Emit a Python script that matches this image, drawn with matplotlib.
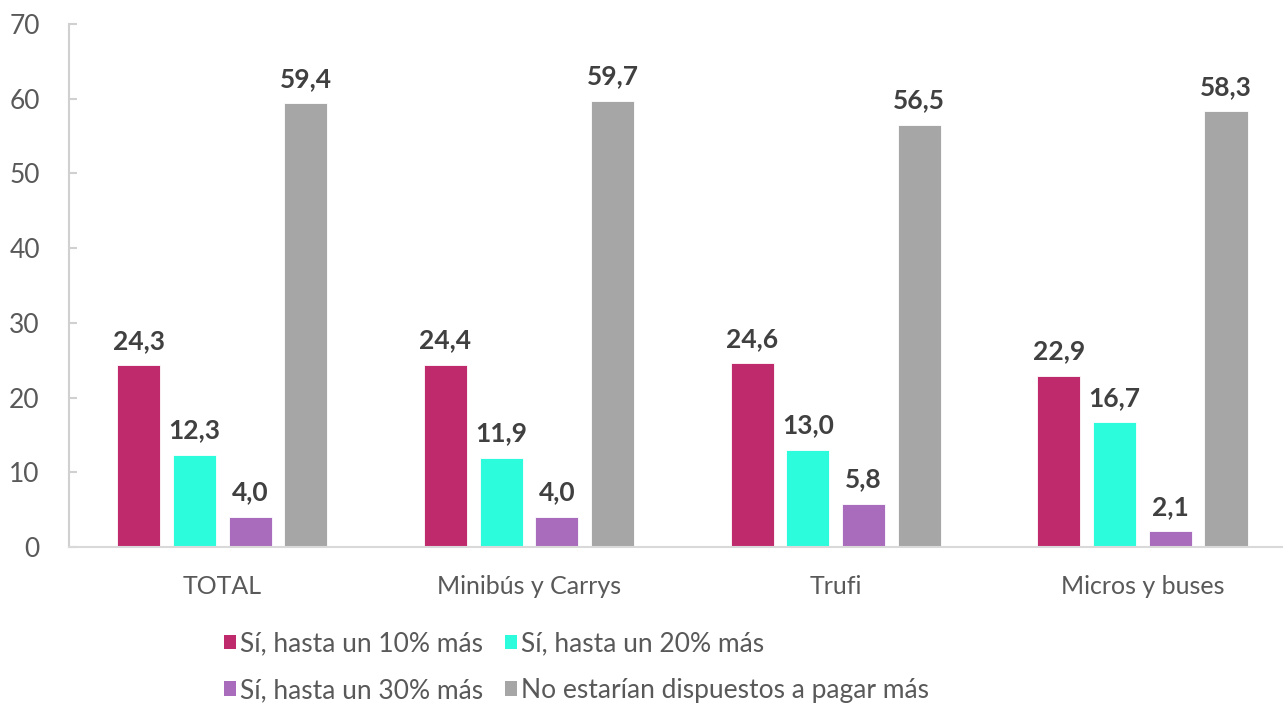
import matplotlib
matplotlib.use("Agg")
import matplotlib.pyplot as plt
import numpy as np
from matplotlib.patches import Patch

categories = ["TOTAL", "Minibús y Carrys", "Trufi", "Micros y buses"]
series_names = ["Sí, hasta un 10% más", "Sí, hasta un 20% más",
                "Sí, hasta un 30% más", "No estarían dispuestos a pagar más"]
s10 = [24.3, 24.4, 24.6, 22.9]
s20 = [12.3, 11.9, 13.0, 16.7]
s30 = [4.0, 4.0, 5.8, 2.1]
s_no = [59.4, 59.7, 56.5, 58.3]
colors = ["#BF2A6D", "#2CFCDC", "#A96BBB", "#A6A6A6"]

plt.rcParams['font.family'] = ['Lato', 'DejaVu Sans']

fig = plt.figure(figsize=(12.83, 7.06), dpi=100)
ax = fig.add_axes([69/1283, 1-547/706, 1226.7/1283, (547-24)/706])

x = np.arange(len(categories))
step = 0.1816
width = 0.141
all_series = [s10, s20, s30, s_no]
for i, (vals, col) in enumerate(zip(all_series, colors)):
    pos = x + (i - 1.5) * step
    ax.bar(pos, vals, width=width, color=col, edgecolor="white", linewidth=0.6)
    for p, v in zip(pos, vals):
        ax.annotate(f"{v:.1f}".replace(".", ","), (p, v), xytext=(0, 9),
                    textcoords="offset points", ha="center", va="bottom",
                    fontsize=19, fontweight="bold", color="#404040")

ax.set_xlim(-0.5, 3.5)
ax.set_ylim(0, 70)
ax.set_yticks(range(0, 71, 10))
ax.set_xticks(x)
ax.set_xticklabels(categories)
for s in ["top", "right"]:
    ax.spines[s].set_visible(False)
ax.spines["left"].set_color("#D0D0D0")
ax.spines["bottom"].set_color("#D9D9D9")
ax.spines["left"].set_linewidth(1.5)
ax.spines["bottom"].set_linewidth(1.5)
ax.tick_params(axis="y", direction="in", length=6, width=1.5, color="#D0D0D0",
               pad=21, labelsize=19, labelcolor="#595959")
ax.tick_params(axis="x", length=0, pad=20, labelsize=18, labelcolor="#595959")

handles = [Patch(facecolor=c) for c in colors]
order = [0, 2, 1, 3]
leg = fig.legend([handles[i] for i in order], [series_names[i] for i in order],
                 ncol=2, loc="upper left", bbox_to_anchor=(224/1283, 1-631/706),
                 frameon=False, fontsize=19, handlelength=0.45, handleheight=0.45,
                 handletextpad=0.15, columnspacing=0.85, labelspacing=0.83,
                 labelcolor="#595959", borderaxespad=0, borderpad=0)

fig.savefig("out.png", dpi=100)
